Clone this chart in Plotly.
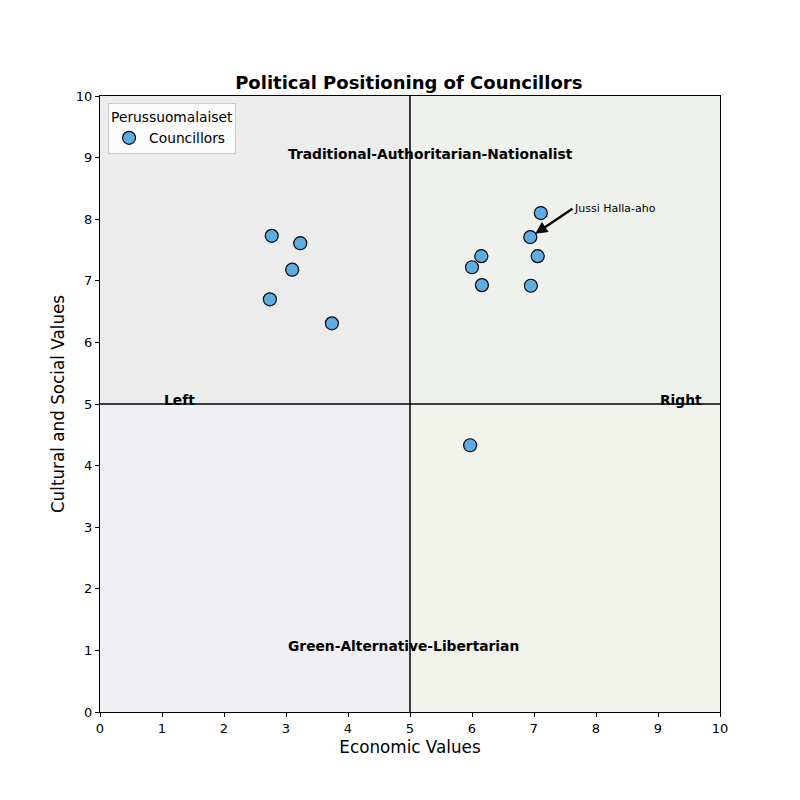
import plotly.graph_objects as go

# Councillor positions
economic = [2.77, 3.23, 3.10, 2.74, 3.74, 7.11, 6.94, 6.15, 7.06, 6.00, 6.16, 6.95, 5.97]
social = [7.73, 7.61, 7.18, 6.70, 6.31, 8.10, 7.71, 7.40, 7.40, 7.22, 6.93, 6.92, 4.33]
highlight_name = "Jussi Halla-aho"
highlight_idx = 6

quadrant_labels = ["Traditional-Authoritarian-Nationalist", "Green-Alternative-Libertarian", "Left", "Right"]
ticks = list(range(0, 11))

FONT = "DejaVu Sans"

fig = go.Figure()

# quadrant backgrounds
quad_colors = {
    (0, 5, 5, 10): "#ececec",
    (5, 10, 5, 10): "#eff1ec",
    (0, 5, 0, 5): "#f0eff4",
    (5, 10, 0, 5): "#f2f3ec",
}
for (x0, x1, y0, y1), col in quad_colors.items():
    fig.add_shape(type="rect", x0=x0, x1=x1, y0=y0, y1=y1, xref="x", yref="y",
                  fillcolor=col, line_width=0, layer="below")

# center lines
fig.add_shape(type="line", x0=5, x1=5, y0=0, y1=10, xref="x", yref="y",
              line=dict(color="black", width=1.5))
fig.add_shape(type="line", x0=0, x1=10, y0=5, y1=5, xref="x", yref="y",
              line=dict(color="black", width=1.5))

fig.add_trace(go.Scatter(
    x=economic, y=social, mode="markers", name="Councillors",
    marker=dict(size=13, color="#5dade2", line=dict(color="black", width=1.2)),
))

# quadrant labels (baseline sits on the given y, like matplotlib)
lab_font = dict(family=FONT, size=13.8, color="black")
label_pos = [(3, 9), (3, 1), (1, 5), (9, 5)]
for text, (lx, ly) in zip(quadrant_labels, label_pos):
    fig.add_annotation(x=lx, y=ly, text="<b>" + text + "</b>", showarrow=False,
                       xanchor="left", yanchor="bottom", yshift=-6, font=lab_font)

# highlighted councillor
fig.add_annotation(x=economic[highlight_idx], y=social[highlight_idx], text=highlight_name,
                   ax=7.62, ay=8.17, axref="x", ayref="y", xanchor="left",
                   showarrow=True, arrowhead=2, arrowsize=1, arrowwidth=2.4,
                   arrowcolor="black", standoff=6,
                   font=dict(family=FONT, size=11, color="black"))

axis_common = dict(range=[0, 10], tickvals=ticks, showgrid=False, zeroline=False,
                   showline=True, linecolor="black", linewidth=1, mirror=True,
                   ticks="outside", ticklen=4, tickcolor="black", automargin=False,
                   tickfont=dict(family=FONT, size=13, color="black"))

# the page body adds an 8px offset, so margins are shifted to compensate
fig.update_layout(
    width=800, height=800,
    margin=dict(l=92, r=88, t=88, b=96, autoexpand=False),
    paper_bgcolor="white", plot_bgcolor="white",
    font=dict(family=FONT, color="black"),
    title=dict(text="<b>Political Positioning of Councillors</b>", x=0.501, xanchor="center",
               y=0.899, yanchor="bottom", font=dict(family=FONT, size=18, color="black")),
    xaxis=dict(title=dict(text="Economic Values", font=dict(family=FONT, size=16.8), standoff=6),
               **axis_common),
    yaxis=dict(title=dict(text="Cultural and Social Values", font=dict(family=FONT, size=16.8), standoff=6),
               **axis_common),
    showlegend=True,
    legend=dict(title=dict(text="Perussuomalaiset", font=dict(family=FONT, size=13.8)),
                x=0.013, y=0.988, xanchor="left", yanchor="top",
                bgcolor="rgba(255,255,255,0.8)", bordercolor="#cccccc", borderwidth=1,
                font=dict(family=FONT, size=13.8, color="black")),
)

fig.write_html("out.html")
